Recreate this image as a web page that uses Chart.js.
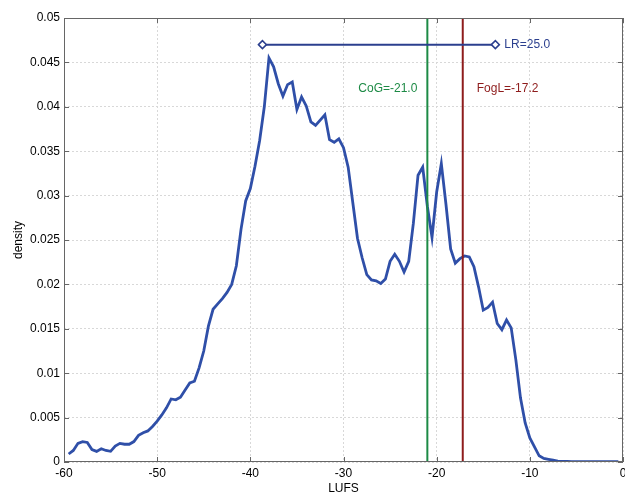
<!DOCTYPE html>
<html>
<head>
<meta charset="utf-8">
<script src="https://cdn.jsdelivr.net/npm/chart.js@4.4.1/dist/chart.umd.min.js"></script>
<style>
  html, body { margin: 0; padding: 0; background: #fff; }
  #wrap { width: 625px; height: 493px; }
</style>
</head>
<body>
<div id="wrap"><canvas id="loudness" width="625" height="493"></canvas></div>
<script>
// loudness histogram (LUFS vs density)
const lufs = [
  -59.5, -59.0, -58.5, -58.0, -57.5, -57.0, -56.5, -56.0, -55.5, -55.0,
  -54.5, -54.0, -53.5, -53.0, -52.5, -52.0, -51.5, -51.0, -50.5, -50.0,
  -49.5, -49.0, -48.5, -48.0, -47.5, -47.0, -46.5, -46.0, -45.5, -45.0,
  -44.5, -44.0, -43.5, -43.0, -42.5, -42.0, -41.5, -41.0, -40.5, -40.0,
  -39.5, -39.0, -38.5, -38.0, -37.5, -37.0, -36.5, -36.0, -35.5, -35.0,
  -34.5, -34.0, -33.5, -33.0, -32.5, -32.0, -31.5, -31.0, -30.5, -30.0,
  -29.5, -29.0, -28.5, -28.0, -27.5, -27.0, -26.5, -26.0, -25.5, -25.0,
  -24.5, -24.0, -23.5, -23.0, -22.5, -22.0, -21.5, -21.0, -20.5, -20.0,
  -19.5, -19.0, -18.5, -18.0, -17.5, -17.0, -16.5, -16.0, -15.5, -15.0,
  -14.5, -14.0, -13.5, -13.0, -12.5, -12.0, -11.5, -11.0, -10.5, -10.0,
  -9.5, -9.0, -8.5, -8.0, -7.5, -7.0, -6.5, -6.0, -5.5, -5.0,
  -4.5, -4.0, -3.5, -3.0, -2.5, -2.0, -1.5, -1.0, -0.5
];
const density = [
  0.0009, 0.0013, 0.0021, 0.0023, 0.0022, 0.0014, 0.0012, 0.0015, 0.0013, 0.0012,
  0.0018, 0.0021, 0.0020, 0.0020, 0.0023, 0.0030, 0.0033, 0.0035, 0.0040, 0.0046,
  0.0053, 0.0061, 0.0071, 0.0070, 0.0073, 0.0081, 0.0089, 0.0091, 0.0106, 0.0125,
  0.0153, 0.0172, 0.0178, 0.0184, 0.0191, 0.0200, 0.0221, 0.0262, 0.0294, 0.0308,
  0.0333, 0.0362, 0.0400, 0.0455, 0.0445, 0.0426, 0.0412, 0.0425, 0.0428, 0.0397,
  0.0411, 0.0401, 0.0383, 0.0379, 0.0385, 0.0391, 0.0363, 0.0360, 0.0364, 0.0354,
  0.0332, 0.0292, 0.0252, 0.0230, 0.0211, 0.0205, 0.0204, 0.0201, 0.0206, 0.0226,
  0.0234, 0.0226, 0.0214, 0.0226, 0.0269, 0.0323, 0.0332, 0.0288, 0.0253, 0.0304,
  0.0336, 0.0290, 0.0240, 0.0224, 0.0229, 0.0232, 0.0231, 0.0220, 0.0197, 0.0171,
  0.0174, 0.0180, 0.0156, 0.0149, 0.0160, 0.0151, 0.0115, 0.0072, 0.0044, 0.0027,
  0.0017, 0.0007, 0.0004, 0.0003, 0.0002, 0.0001, 0.00008, 0.00006, 0.00005, 0.00005,
  0.00005, 0.00005, 0.00005, 0.00005, 0.00005, 0.00005, 0.00005, 0.00005, 0.00005
];
const xTicks = [-60, -50, -40, -30, -20, -10, 0];
const yTicks = [0, 0.005, 0.01, 0.015, 0.02, 0.025, 0.03, 0.035, 0.04, 0.045, 0.05];

const lrStart = -38.7, lrEnd = -13.7, lrLevel = 0.047;
const cog = -21.0, fogl = -17.2;
const labelLevel = 0.042;

const FONT = '"Liberation Sans", Arial, Helvetica, sans-serif';
const BLUE = '#2f4fa8';
const NAVY = '#2b3f8e';
const GREEN = '#1d8a45';
const RED = '#8e1c1c';

// frame with inward ticks + text labels (matlab look)
const framePlugin = {
  id: 'frame',
  afterDraw(chart) {
    const { ctx, chartArea: a, scales: { x, y } } = chart;
    ctx.save();
    ctx.strokeStyle = '#666';
    ctx.lineWidth = 1;
    ctx.strokeRect(a.left + 0.5, a.top + 0.5, a.right - a.left - 1, a.bottom - a.top - 1);
    ctx.beginPath();
    xTicks.forEach(v => {
      const px = Math.round(x.getPixelForValue(v)) + 0.5;
      ctx.moveTo(px, a.bottom); ctx.lineTo(px, a.bottom - 5);
      ctx.moveTo(px, a.top); ctx.lineTo(px, a.top + 5);
    });
    yTicks.forEach(v => {
      const py = Math.round(y.getPixelForValue(v)) + 0.5;
      ctx.moveTo(a.left, py); ctx.lineTo(a.left + 5, py);
      ctx.moveTo(a.right, py); ctx.lineTo(a.right - 5, py);
    });
    ctx.stroke();

    ctx.font = '12px ' + FONT;
    ctx.textBaseline = 'middle';
    ctx.fillStyle = NAVY;
    ctx.textAlign = 'left';
    ctx.fillText('LR=' + (lrEnd - lrStart).toFixed(1), x.getPixelForValue(lrEnd) + 9, y.getPixelForValue(lrLevel));
    ctx.fillStyle = GREEN;
    ctx.textAlign = 'right';
    ctx.fillText('CoG=' + cog.toFixed(1), x.getPixelForValue(cog) - 10, y.getPixelForValue(labelLevel));
    ctx.fillStyle = RED;
    ctx.textAlign = 'left';
    ctx.fillText('FogL=' + fogl.toFixed(1), x.getPixelForValue(fogl) + 14, y.getPixelForValue(labelLevel));
    ctx.restore();
  }
};

new Chart(document.getElementById('loudness'), {
  type: 'line',
  data: {
    datasets: [
      {
        data: lufs.map((v, i) => ({ x: v, y: density[i] })),
        borderColor: BLUE, borderWidth: 2.8, pointRadius: 0, tension: 0, order: 3
      },
      {
        data: [{ x: cog, y: 0 }, { x: cog, y: 0.05 }],
        borderColor: GREEN, borderWidth: 2, pointRadius: 0, order: 2
      },
      {
        data: [{ x: fogl, y: 0 }, { x: fogl, y: 0.05 }],
        borderColor: RED, borderWidth: 2, pointRadius: 0, order: 2
      },
      {
        data: [{ x: lrStart, y: lrLevel }, { x: lrEnd, y: lrLevel }],
        borderColor: NAVY, borderWidth: 2, order: 1,
        pointStyle: 'rectRot', pointRadius: 4, pointBorderWidth: 1.5,
        pointBackgroundColor: '#fff', pointBorderColor: NAVY
      }
    ]
  },
  options: {
    responsive: false,
    animation: false,
    layout: { autoPadding: false, padding: { top: 18, right: 2, left: 0, bottom: 0 } },
    plugins: { legend: { display: false }, tooltip: { enabled: false } },
    scales: {
      x: {
        type: 'linear', min: -60, max: 0,
        afterBuildTicks: s => { s.ticks = xTicks.map(v => ({ value: v })); },
        afterFit: s => { s.height = 31; s.paddingLeft = 0; s.paddingRight = 0; },
        ticks: { color: '#000', font: { size: 12, family: FONT }, padding: 4, maxRotation: 0, autoSkip: false },
        grid: { color: '#d8d8d8', drawTicks: false },
        border: { display: false, dash: [2, 2] },
        title: { display: true, text: 'LUFS', color: '#000', font: { size: 12, family: FONT }, padding: { top: 0, bottom: -3 } }
      },
      y: {
        min: 0, max: 0.05,
        afterBuildTicks: s => { s.ticks = yTicks.map(v => ({ value: v })); },
        afterFit: s => { s.width = 64; s.paddingTop = 0; s.paddingBottom = 0; },
        ticks: { color: '#000', font: { size: 12, family: FONT }, padding: 4, callback: v => String(+v.toFixed(3)) },
        grid: { color: '#d8d8d8', drawTicks: false },
        border: { display: false, dash: [2, 2] },
        title: { display: true, text: 'density', color: '#000', font: { size: 12, family: FONT }, padding: { top: 11, bottom: 0 } }
      }
    }
  },
  plugins: [framePlugin]
});
</script>
</body>
</html>
